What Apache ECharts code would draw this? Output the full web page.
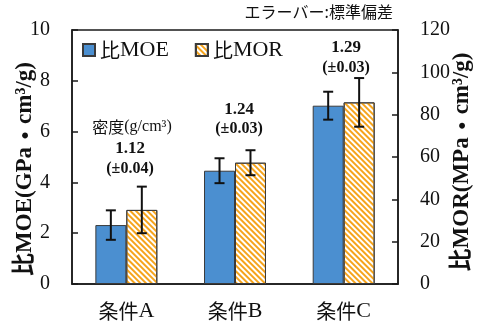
<!DOCTYPE html>
<html><head><meta charset="utf-8">
<script src="https://cdn.jsdelivr.net/npm/echarts@6/dist/echarts.min.js"></script>
<style>html,body{margin:0;padding:0;background:#fff}#c{width:484px;height:327px}</style>
</head><body><div id="c"></div>
<script>
const categories = ['条件A', '条件B', '条件C'];
const moe = [2.32, 4.46, 7.02];
const moeErr = [0.58, 0.49, 0.55];
const mor = [35.0, 57.3, 85.8];
const morErr = [11.0, 5.9, 11.5];
const densityValues = ['1.12', '1.24', '1.29'];
const densitySd = ['0.04', '0.03', '0.03'];
const leftTicks = [0, 10, 2];
const rightTicks = [0, 120, 20];

const SERIF = '"Liberation Serif","Noto Sans CJK JP",serif';
const CJK = '"Noto Sans CJK JP","Liberation Serif",sans-serif';
const BAR_FRAC = 0.285;
const chart = echarts.init(document.getElementById('c'));

function errSeries(vals, errs, yIdx, side) {
  return {
    type: 'custom', yAxisIndex: yIdx, z: 10, silent: true,
    data: vals.map((v, i) => [i, v, errs[i]]),
    renderItem: function (params, api) {
      const i = api.value(0), v = api.value(1), e = api.value(2);
      const band = api.size([1, 0])[0];
      const bw = band * BAR_FRAC;
      const c = api.coord([i, v]);
      const x = c[0] + side * bw / 2;
      const top = api.coord([i, v + e])[1];
      const bot = api.coord([i, v - e])[1];
      const cap = 5;
      const st = { stroke: '#111', lineWidth: 2 };
      return { type: 'group', children: [
        { type: 'line', shape: { x1: x, y1: top, x2: x, y2: bot }, style: st },
        { type: 'line', shape: { x1: x - cap, y1: top, x2: x + cap, y2: top }, style: st },
        { type: 'line', shape: { x1: x - cap, y1: bot, x2: x + cap, y2: bot }, style: st }
      ]};
    }
  };
}

const nameRich = {
  a: { font: 'bold 23px ' + CJK, fill: '#111' },
  b: { font: 'bold 23px ' + SERIF, fill: '#111' }
};
const graphics = [
  { type: 'text', right: 91, top: 4, style: { text: 'エラーバー:標準偏差', font: '16px ' + CJK, fill: '#111' } },
  { type: 'text', x: 132, y: 127, style: { text: '{a|密度}{b|(g/cm³)}', align: 'center', verticalAlign: 'middle',
      rich: { a: { font: '16px ' + CJK, fill: '#111' }, b: { font: '16px ' + SERIF, fill: '#111' } } } },
  { type: 'text', x: 25, y: 169, rotation: Math.PI / 2, style: { text: '{b|比MOE(GPa}{a|・}{b|cm³/g)}', align: 'center', verticalAlign: 'middle', rich: nameRich } },
  { type: 'text', x: 462, y: 162, rotation: Math.PI / 2, style: { text: '{b|比MOR(MPa}{a|・}{b|cm³/g)}', align: 'center', verticalAlign: 'middle', rich: nameRich } }
];
const densPos = [[130, 149, 169], [239, 110, 129], [346, 48, 68]];
densityValues.forEach((d, i) => {
  graphics.push({ type: 'text', x: densPos[i][0], y: densPos[i][1], style: { text: d, align: 'center', verticalAlign: 'middle', font: 'bold 17px ' + SERIF, fill: '#111' } });
  graphics.push({ type: 'text', x: densPos[i][0], y: densPos[i][2], style: { text: '(±' + densitySd[i] + ')', align: 'center', verticalAlign: 'middle', font: 'bold 16px ' + SERIF, fill: '#111' } });
});

const axisCommon = {
  type: 'value', splitLine: { show: false },
  axisLine: { show: true, lineStyle: { color: '#1a1a1a', width: 1.5 } },
  axisTick: { show: true, inside: true, length: 6, lineStyle: { color: '#1a1a1a', width: 1.5 } },
  axisLabel: { fontFamily: SERIF, fontSize: 20, color: '#111', margin: 22 }
};

chart.setOption({
  animation: false,
  backgroundColor: '#fff',
  grid: { left: 72, right: 86, top: 30, bottom: 43, show: true, borderColor: '#1a1a1a', borderWidth: 1.5 },
  legend: {
    left: 82, top: 39, padding: 0, itemWidth: 12, itemHeight: 12, itemGap: 26,
    formatter: n => '{a|' + n.slice(0, 1) + '}{b|' + n.slice(1) + '}',
    textStyle: { fontFamily: SERIF, fontSize: 21, color: '#111',
      rich: { a: { fontFamily: CJK, fontSize: 20, color: '#111' }, b: { fontFamily: SERIF, fontSize: 22, color: '#111' } } },
    data: [{ name: '比MOE', icon: 'rect' }, { name: '比MOR', icon: 'rect' }]
  },
  xAxis: {
    type: 'category', data: categories,
    axisLine: { lineStyle: { color: '#1a1a1a', width: 1.5 } },
    axisTick: { show: false },
    axisLabel: { interval: 0, fontFamily: CJK, fontSize: 20, color: '#111', margin: 16,
      formatter: v => '{a|' + v.slice(0, 2) + '}{b|' + v.slice(2) + '}',
      rich: { a: { fontFamily: CJK, fontSize: 20, color: '#111' }, b: { fontFamily: SERIF, fontSize: 22, color: '#111' } } }
  },
  yAxis: [
    Object.assign({}, axisCommon, { min: leftTicks[0], max: leftTicks[1], interval: leftTicks[2], position: 'left' }),
    Object.assign({}, axisCommon, { min: rightTicks[0], max: rightTicks[1], interval: rightTicks[2], position: 'right' })
  ],
  series: [
    { name: '比MOE', type: 'bar', data: moe, yAxisIndex: 0, barWidth: (BAR_FRAC * 100) + '%', barGap: '0%',
      itemStyle: { color: '#4B8FD0', borderColor: '#3a3a3a', borderWidth: 1 } },
    { name: '比MOR', type: 'bar', data: mor, yAxisIndex: 1, barWidth: (BAR_FRAC * 100) + '%', barGap: '0%',
      itemStyle: { color: '#ffffff', borderColor: '#3a3a3a', borderWidth: 1,
        decal: { symbol: 'rect', symbolSize: 1, dashArrayX: [1, 0], dashArrayY: [2, 2], rotation: Math.PI / 4, color: '#F6A41C' } } },
    errSeries(moe, moeErr, 0, -1),
    errSeries(mor, morErr, 1, 1)
  ],
  graphic: graphics
});
</script></body></html>
